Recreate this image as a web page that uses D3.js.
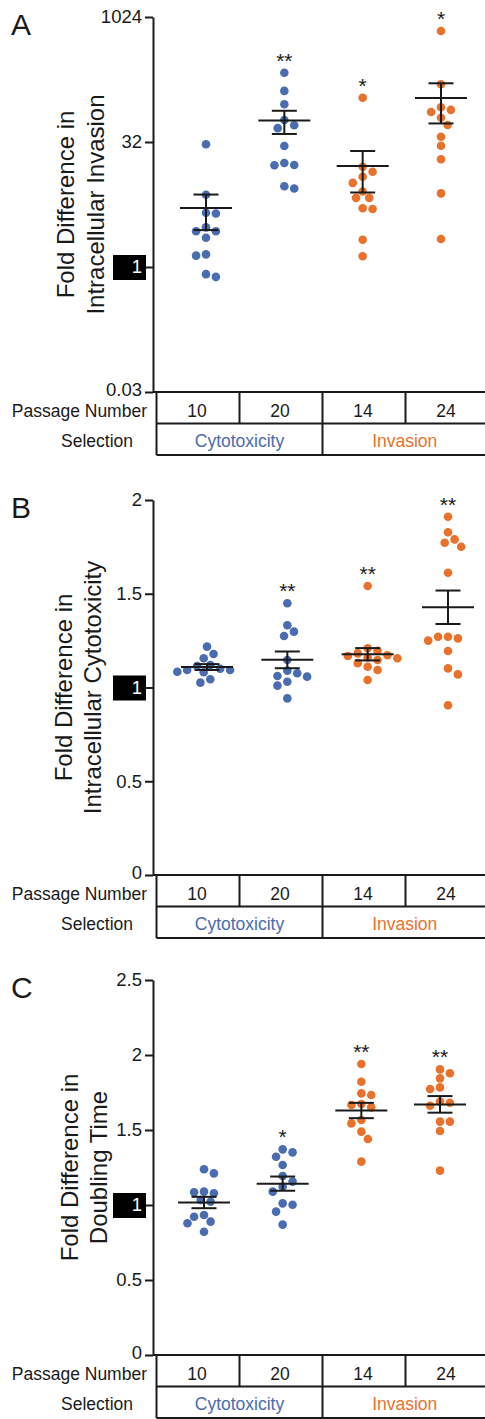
<!DOCTYPE html>
<html>
<head>
<meta charset="utf-8">
<script src="https://cdn.jsdelivr.net/npm/d3@7"></script>
<style>
  body { margin: 0; background: #fff; }
  svg { display: block; font-family: "Liberation Sans", Arial, sans-serif; }
</style>
</head>
<body>
<svg id="chart" width="485" height="1419"></svg>
<script>
// categories
const passages = ["10", "20", "14", "24"];
const selections = ["Cytotoxicity", "Invasion"];
const passageSelection = [0, 0, 1, 1];
const selectionColors = ["#4a6cb1", "#e8722c"];

// A: fold difference in intracellular invasion (log2 axis)
const invasion10 = [30.1, 7.4, 4.5, 4.4, 3.0, 2.7, 2.7, 2.25, 1.42, 1.37, 0.82, 0.76];
const invasion20 = [218, 132, 91, 59, 51, 47, 28.6, 17.9, 16.9, 16.8, 9.4, 8.8];
const invasion14 = [109, 16.1, 14.0, 12.2, 10.3, 8.1, 6.8, 6.8, 5.1, 5.0, 2.13, 1.35];
const invasion24 = [695, 159, 84, 78, 73.5, 62.7, 51.3, 37, 28.8, 19.8, 7.7, 2.17];
const invasionStars = ["", "**", "*", "*"];
const invasionTicks = [1 / 32, 1, 32, 1024];
const invasionTickLabels = ["0.03", "1", "32", "1024"];

// B: fold difference in intracellular cytotoxicity
const cyto10 = [1.218, 1.179, 1.156, 1.12, 1.115, 1.10, 1.093, 1.093, 1.084, 1.081, 1.044, 1.026];
const cyto20 = [1.449, 1.332, 1.298, 1.275, 1.147, 1.09, 1.076, 1.061, 1.058, 1.031, 1.01, 0.942];
const cyto14 = [1.541, 1.209, 1.196, 1.182, 1.172, 1.168, 1.16, 1.156, 1.147, 1.13, 1.111, 1.093, 1.04];
const cyto24 = [1.911, 1.828, 1.79, 1.772, 1.751, 1.612, 1.271, 1.271, 1.262, 1.25, 1.195, 1.102, 1.07, 0.905];
const cytoStars = ["", "**", "**", "**"];
const cytoTicks = [0, 0.5, 1, 1.5, 2];
const cytoTickLabels = ["0", "0.5", "1", "1.5", "2"];

// C: fold difference in doubling time
const dbl10 = [1.238, 1.211, 1.089, 1.085, 1.078, 1.033, 1.022, 0.933, 0.922, 0.889, 0.878, 0.822];
const dbl20 = [1.371, 1.351, 1.322, 1.267, 1.193, 1.156, 1.122, 1.089, 1.011, 1.002, 0.956, 0.869];
const dbl14 = [1.94, 1.822, 1.744, 1.733, 1.673, 1.667, 1.651, 1.567, 1.544, 1.489, 1.44, 1.289];
const dbl24 = [1.904, 1.878, 1.844, 1.784, 1.773, 1.689, 1.682, 1.662, 1.556, 1.556, 1.493, 1.229];
const dblStars = ["", "*", "**", "**"];
const dblTicks = [0, 0.5, 1, 1.5, 2, 2.5];
const dblTickLabels = ["0", "0.5", "1", "1.5", "2", "2.5"];

const svg = d3.select("#chart");
const W = 485;
const axisX = 153;
const ink = "#1a1a1a";
const r = 4.3;

const panels = [
  { letter: "A", series: [invasion10, invasion20, invasion14, invasion24], stars: invasionStars,
    y: d3.scaleLog().base(2).domain([1 / 32, 1024]).range([392, 17]),
    ticks: invasionTicks, tickLabels: invasionTickLabels, xr: [206, 441],
    label: ["Fold Difference in", "Intracellular Invasion"], labelX: [74, 104] },
  { letter: "B", series: [cyto10, cyto20, cyto14, cyto24], stars: cytoStars,
    y: d3.scaleLinear().domain([0, 2]).range([875, 500]),
    ticks: cytoTicks, tickLabels: cytoTickLabels, xr: [207, 448],
    label: ["Fold Difference in", "Intracellular Cytotoxicity"], labelX: [72, 101] },
  { letter: "C", series: [dbl10, dbl20, dbl14, dbl24], stars: dblStars,
    y: d3.scaleLinear().domain([0, 2.5]).range([1355, 980]),
    ticks: dblTicks, tickLabels: dblTickLabels, xr: [204, 440],
    label: ["Fold Difference in", "Doubling Time"], labelX: [78, 107] }
];

// simple beeswarm: offsets in steps, nearest free slot to the centre
function swarm(ys, step) {
  const order = d3.range(ys.length).sort((a, b) => ys[a] - ys[b]);
  const placed = [];
  const xs = new Array(ys.length);
  let flip = 1;
  for (const i of order) {
    for (let k = 0; k < 30; k++) {
      const cands = k === 0 ? [0] : [flip * k * step, -flip * k * step];
      const off = cands.find(o => placed.every(p => Math.hypot(p.x - o, p.y - ys[i]) >= 2 * r + 0.4));
      if (off !== undefined) {
        xs[i] = off;
        placed.push({ x: off, y: ys[i] });
        if (off !== 0) flip = -flip;
        break;
      }
    }
  }
  return xs;
}

panels.forEach(p => {
  const g = svg.append("g");
  const y = p.y;
  const x = d3.scalePoint().domain(passages).range(p.xr);
  const base = y.range()[0];
  const top = y.range()[1];

  // panel letter
  g.append("text").attr("x", 11).attr("y", top + 18)
    .style("font-size", "30px").attr("fill", ink).text(p.letter);

  // y axis
  const ax = g.append("g").attr("transform", `translate(${axisX},0)`)
    .call(d3.axisLeft(y).tickValues(p.ticks).tickFormat((d, i) => p.tickLabels[i])
      .tickSize(8).tickSizeOuter(0).tickPadding(3));
  ax.select(".domain").attr("stroke", ink).attr("stroke-width", 2);
  ax.selectAll(".tick line").attr("stroke", ink).attr("stroke-width", 2);
  ax.selectAll(".tick text").attr("fill", ink)
    .style("font-size", "18.5px").style("font-family", "Liberation Sans, Arial, sans-serif");
  // lowest label sits just above the table row
  ax.selectAll(".tick").filter(d => d === p.ticks[0]).select("text").attr("dy", "0.2em");
  ax.selectAll(".tick").filter(d => d === 1).each(function () {
    const t = d3.select(this);
    t.insert("rect", "text").attr("x", -40).attr("y", -12.5).attr("width", 33).attr("height", 25).attr("fill", "#000");
    t.select("text").attr("fill", "#fff");
  });

  // y label
  p.label.forEach((line, i) => {
    g.append("text")
      .attr("transform", `translate(${p.labelX[i]},${(base + top) / 2}) rotate(-90)`)
      .attr("text-anchor", "middle").style("font-size", "24px").attr("fill", ink).text(line);
  });

  // points, mean and SEM
  p.series.forEach((vals, gi) => {
    const cx = x(passages[gi]);
    const col = selectionColors[passageSelection[gi]];
    const ys = vals.map(v => y(v));
    const offs = swarm(ys, 3.3);
    g.append("g").selectAll("circle").data(vals).join("circle")
      .attr("cx", (d, i) => cx + offs[i]).attr("cy", (d, i) => ys[i])
      .attr("r", r).attr("fill", col);

    const m = d3.mean(vals);
    const sem = d3.deviation(vals) / Math.sqrt(vals.length);
    const ym = y(m), yHi = y(m + sem), yLo = y(m - sem);
    const eg = g.append("g").attr("stroke", ink).attr("stroke-width", 2);
    eg.append("line").attr("x1", cx - 26).attr("x2", cx + 26).attr("y1", ym).attr("y2", ym);
    eg.append("line").attr("x1", cx).attr("x2", cx).attr("y1", yHi).attr("y2", yLo);
    [yHi, yLo].forEach(yy => eg.append("line").attr("x1", cx - 12.5).attr("x2", cx + 12.5).attr("y1", yy).attr("y2", yy));

    if (p.stars[gi]) {
      g.append("text").attr("x", cx).attr("y", d3.min(ys) - 18).attr("dy", "0.62em")
        .attr("text-anchor", "middle").style("font-size", "21px").attr("fill", ink).text(p.stars[gi]);
    }
  });

  // bottom axis line + table
  const col = d3.scaleBand().domain(passages).range([156.5, 488.5]);
  const rowH = 31.5;
  const tg = g.append("g").attr("stroke", ink).attr("stroke-width", 2);
  tg.append("line").attr("x1", axisX).attr("x2", W).attr("y1", base).attr("y2", base);
  tg.append("line").attr("x1", col.range()[0]).attr("x2", W).attr("y1", base + rowH).attr("y2", base + rowH);
  tg.append("line").attr("x1", col.range()[0]).attr("x2", W).attr("y1", base + 2 * rowH).attr("y2", base + 2 * rowH);
  tg.append("line").attr("x1", col.range()[0]).attr("x2", col.range()[0]).attr("y1", base).attr("y2", base + 2 * rowH);
  passages.slice(1).forEach((d, i) => {
    const xx = col(d);
    const full = passageSelection[i + 1] !== passageSelection[i];
    tg.append("line").attr("x1", xx).attr("x2", xx).attr("y1", base).attr("y2", base + (full ? 2 : 1) * rowH);
  });

  const txt = g.append("g").style("font-size", "17.5px").attr("fill", ink);
  const row1 = base + rowH / 2 + 2.5;
  const row2 = base + rowH * 1.5 + 1.5;
  txt.append("text").attr("x", 147).attr("y", row1).attr("dy", "0.36em")
    .attr("text-anchor", "end").text("Passage Number");
  txt.append("text").attr("x", 133).attr("y", row2).attr("dy", "0.36em")
    .attr("text-anchor", "end").text("Selection");
  passages.forEach(d => {
    txt.append("text").attr("x", col(d) + col.bandwidth() / 2 - 1).attr("y", row1).attr("dy", "0.36em")
      .attr("text-anchor", "middle").text(d);
  });
  selections.forEach((s, si) => {
    const members = passages.filter((d, i) => passageSelection[i] === si);
    const x0 = col(members[0]);
    const x1 = Math.min(col(members[members.length - 1]) + col.bandwidth(), W + 2);
    txt.append("text").attr("x", (x0 + x1) / 2).attr("y", row2).attr("dy", "0.36em")
      .attr("text-anchor", "middle").attr("fill", selectionColors[si]).text(s);
  });
});
</script>
</body>
</html>
